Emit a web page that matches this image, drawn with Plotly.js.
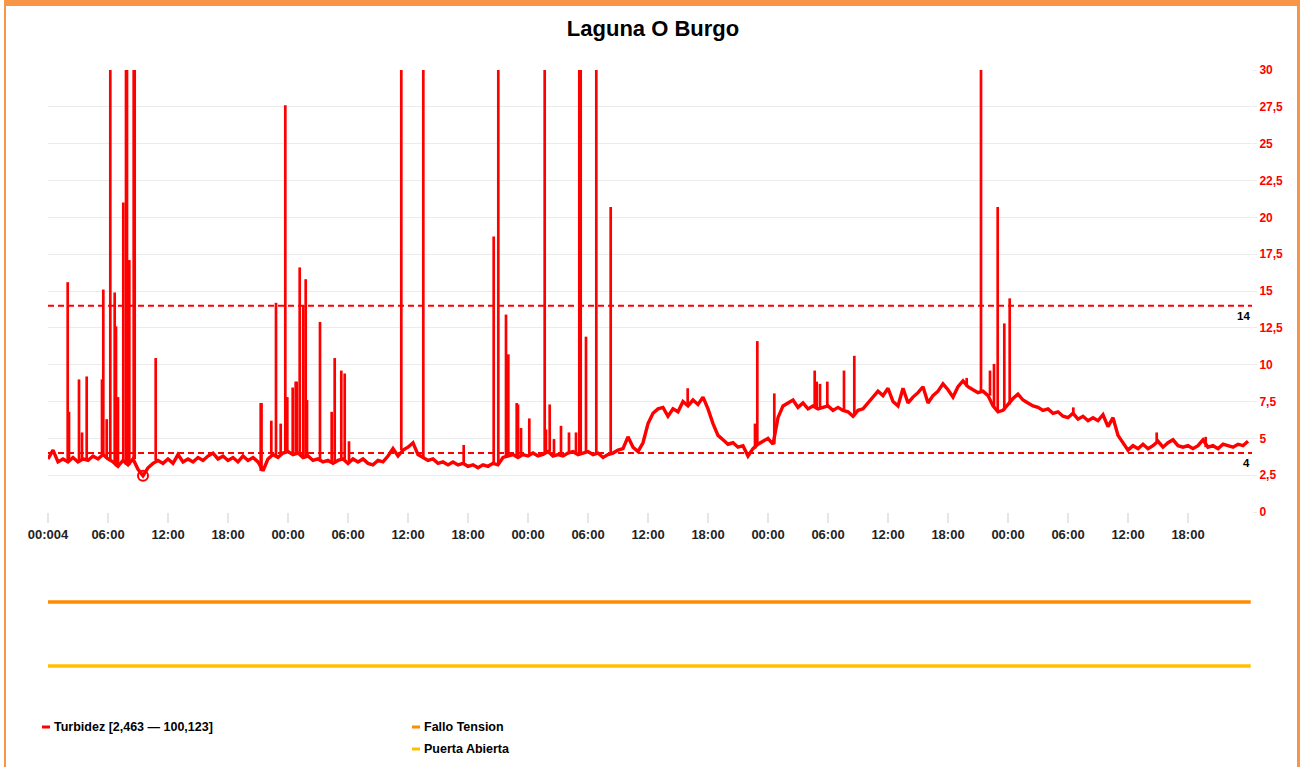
<!DOCTYPE html>
<html>
<head>
<meta charset="utf-8">
<script src="https://cdn.plot.ly/plotly-3.0.1.min.js"></script>
<style>
  html, body { margin: 0; padding: 0; background: #fff; }
  #wrap { position: relative; width: 1306px; height: 767px; overflow: hidden; }
  #chart { position: absolute; left: 0; top: 0; width: 1306px; height: 767px; }
  #frame { position: absolute; left: 4px; top: 0; width: 1296px; height: 767px;
           border-top: 6px solid #f79646; border-left: 2px solid #f79646; border-right: 3px solid #f79646;
           box-sizing: border-box; pointer-events: none; }
</style>
</head>
<body>
<div id="wrap"><div id="chart"></div><div id="frame"></div></div>
<script>
// ---------------- DATA ----------------
// Turbidity base series, sampled every 0.5 h from 00:00 of day 1
const baseStepHours = 0.5;
const turbidezBase = [
  3.6,4.2,3.4,3.6,3.4,3.7,3.4,3.6,3.5,3.8,3.6,3.9,
  3.6,3.4,3.1,3.5,3.2,3.6,2.9,2.463,3.0,3.3,3.5,3.3,
  3.6,3.3,3.9,3.4,3.6,3.4,3.7,3.5,3.8,4.0,3.6,3.8,
  3.5,3.7,3.4,3.8,3.5,3.7,3.4,2.8,3.6,3.9,3.7,4.0,
  4.1,3.9,4.0,3.7,3.8,3.5,3.6,3.4,3.5,3.3,3.5,3.6,
  3.3,3.6,3.4,3.6,3.3,3.2,3.5,3.4,3.8,4.3,3.8,4.2,
  4.4,4.7,3.9,3.7,3.5,3.6,3.3,3.4,3.2,3.4,3.2,3.3,
  3.1,3.2,3.0,3.2,3.1,3.3,3.2,3.7,3.8,3.9,3.7,3.9,
  3.8,4.0,3.8,3.9,4.1,3.8,3.9,3.8,4.0,4.1,3.9,4.0,
  4.1,3.9,4.0,3.7,3.9,4.0,4.2,4.3,5.1,4.4,4.1,4.7,
  6.0,6.7,7.0,7.1,6.5,7.0,6.8,7.5,7.2,7.6,7.3,7.8,
  7.0,6.0,5.2,4.9,4.6,4.7,4.4,4.5,3.8,4.3,4.6,4.8,
  5.0,4.6,6.4,7.2,7.4,7.6,7.1,7.4,7.0,7.2,7.0,7.1,
  7.2,6.9,7.1,6.9,6.8,6.5,6.9,7.0,7.4,7.8,8.2,7.9,
  8.4,7.5,7.2,8.4,7.4,7.8,8.1,8.5,7.4,7.9,8.2,8.7,
  8.3,7.8,8.5,8.9,8.5,8.3,8.1,8.2,7.9,7.2,6.8,6.9,
  7.3,7.7,8.0,7.6,7.4,7.2,7.1,6.9,7.0,6.7,6.8,6.5,
  6.4,6.7,6.3,6.5,6.2,6.4,6.2,6.6,5.8,6.4,5.2,4.7,
  4.2,4.5,4.3,4.6,4.3,4.5,4.8,4.4,4.7,4.9,4.5,4.4,
  4.5,4.3,4.5,4.9,4.4,4.5,4.3,4.6,4.5,4.4,4.6,4.5,
  4.8
];
// Short turbidity spikes (hour since start, peak value)
const spikeHours = [
  1.97,2.1,3.1,3.4,3.87,5.4,5.53,5.87,6.23,6.67,6.8,7.0,7.53,7.8,7.9,8.13,8.57,8.67,10.77,
  21.27,21.35,22.33,22.8,23.27,23.73,23.93,24.47,24.77,24.87,25.17,25.53,25.77,25.9,27.2,28.37,28.67,29.33,29.67,30.1,
  35.33,37.53,41.57,44.57,45.03,45.8,46.03,46.87,47.0,47.3,48.13,49.67,49.8,50.17,50.6,51.3,52.1,52.8,53.13,53.27,53.8,54.83,56.27,
  63.97,70.7,70.93,72.63,76.67,76.87,77.2,77.93,79.6,80.63,
  91.87,93.3,94.2,94.6,94.97,95.63,96.17,102.53,110.87,115.77
];
const spikePeaks = [
  15.6,6.8,9.0,5.4,9.2,9.0,15.1,6.3,100.123,14.9,12.6,7.8,21.0,60,60,17.1,60,60,10.45,
  7.4,7.4,6.2,14.2,6.0,27.6,7.8,8.45,8.85,8.85,16.6,14.05,15.8,7.6,12.9,6.8,10.45,9.6,9.4,4.8,
  60,60,4.55,18.7,60,13.4,10.7,7.4,7.3,5.7,6.35,60,5.6,7.3,4.95,5.85,5.4,5.4,60,60,11.9,60,20.7,
  8.4,6.0,11.6,8.05,9.6,8.85,8.7,8.85,9.6,10.6,
  9.1,60,9.6,10.05,20.7,12.8,14.5,7.1,5.4,5.1
];
// Status signals (no events: flat at 0)
const falloTensionHours = [0, 120.27];
const falloTensionVals = [0, 0];
const puertaAbiertaHours = [0, 120.27];
const puertaAbiertaVals = [0, 0];
// Thresholds
const thresholds = [14, 4];
// Axis ticks
const xTickVals = [0,6,12,18,24,30,36,42,48,54,60,66,72,78,84,90,96,102,108,114];
const xTickText = ["00:004","06:00","12:00","18:00","00:00","06:00","12:00","18:00","00:00","06:00","12:00","18:00","00:00","06:00","12:00","18:00","00:00","06:00","12:00","18:00"];
const yTickVals = [0,2.5,5,7.5,10,12.5,15,17.5,20,22.5,25,27.5,30];
const yTickText = ["0","2,5","5","7,5","10","12,5","15","17,5","20","22,5","25","27,5","30"];

// ---------------- BUILD ----------------
const FONT = "Liberation Sans, Arial, Helvetica, sans-serif";
const RED = "#ff0000";
const baseHours = turbidezBase.map((v, i) => i * baseStepHours);

const sx = [], sy = [];
spikeHours.forEach((t, i) => {
  const foot = turbidezBase[Math.min(turbidezBase.length - 1, Math.round(t / baseStepHours))];
  sx.push(t, t, null);
  sy.push(foot, spikePeaks[i], null);
});

let minVal = Infinity, minHour = 0;
turbidezBase.forEach((v, i) => { if (v < minVal) { minVal = v; minHour = baseHours[i]; } });
const maxVal = Math.max(...turbidezBase, ...spikePeaks);
const fmt = v => v.toFixed(3).replace('.', ',');

const traces = [
  { x: baseHours, y: turbidezBase, type: 'scatter', mode: 'lines', name: 'Turbidez',
    line: { color: RED, width: 3.4 }, xaxis: 'x', yaxis: 'y', showlegend: false, hoverinfo: 'skip' },
  { x: sx, y: sy, type: 'scatter', mode: 'lines', name: 'Turbidez picos',
    line: { color: RED, width: 2.7 }, xaxis: 'x', yaxis: 'y', showlegend: false, connectgaps: false, hoverinfo: 'skip' },
  { x: [minHour], y: [minVal], type: 'scatter', mode: 'markers', name: 'min',
    marker: { symbol: 'circle-open', size: 10, color: RED, line: { color: RED, width: 2 } },
    xaxis: 'x', yaxis: 'y', showlegend: false, hoverinfo: 'skip', cliponaxis: false },
  { x: falloTensionHours, y: falloTensionVals, type: 'scatter', mode: 'lines', name: 'Fallo Tension',
    line: { color: '#ff8c00', width: 3.5 }, xaxis: 'x', yaxis: 'y2', showlegend: false, hoverinfo: 'skip' },
  { x: puertaAbiertaHours, y: puertaAbiertaVals, type: 'scatter', mode: 'lines', name: 'Puerta Abierta',
    line: { color: '#ffc000', width: 3.5 }, xaxis: 'x', yaxis: 'y3', showlegend: false, hoverinfo: 'skip' }
];

// pixel -> paper helpers (plot area: x 48..1252, y 70..680)
const PL = 48, PW = 1204, PB = 680, PH = 610;
const px = p => (p - PL) / PW;
const py = p => (PB - p) / PH;

const shapes = thresholds.map(t => ({
  type: 'line', xref: 'paper', yref: 'y', x0: 0, x1: 1, y0: t, y1: t,
  line: { color: RED, width: 2, dash: '6px,4px' }
}));
const legendItems = [
  { color: RED, text: 'Turbidez [' + fmt(minVal) + ' — ' + fmt(maxVal) + ']', x: 42, y: 727 },
  { color: '#ff8c00', text: 'Fallo Tension', x: 412, y: 727 },
  { color: '#ffc000', text: 'Puerta Abierta', x: 412, y: 749 }
];
legendItems.forEach(it => {
  shapes.push({ type: 'line', xref: 'paper', yref: 'paper', x0: px(it.x), x1: px(it.x + 8),
                y0: py(it.y), y1: py(it.y), line: { color: it.color, width: 3 } });
});
const annotations = thresholds.map(t => ({
  xref: 'paper', yref: 'y', x: 1, y: t, xanchor: 'right', yanchor: 'top', yshift: -2,
  text: String(t), showarrow: false, font: { family: FONT, size: 11.5, color: '#000', weight: 'bold' }
}));
legendItems.forEach(it => {
  annotations.push({ xref: 'paper', yref: 'paper', x: px(it.x + 10), y: py(it.y), xanchor: 'left', yanchor: 'middle',
    text: it.text, showarrow: false, font: { family: FONT, size: 12.5, color: '#000', weight: 'bold' } });
});

const layout = {
  width: 1306, height: 767,
  margin: { l: 48, r: 54, t: 70, b: 87, pad: 0 },
  paper_bgcolor: '#fff', plot_bgcolor: '#fff',
  showlegend: false,
  title: { text: 'Laguna O Burgo', x: 0.5, xref: 'container', xanchor: 'center',
           y: 1 - 28 / 767, yref: 'container', yanchor: 'middle',
           font: { family: FONT, size: 22, color: '#000', weight: 'bold' } },
  xaxis: { range: [0, 120.4], tickmode: 'array', tickvals: xTickVals, ticktext: xTickText,
           ticks: 'outside', ticklen: 10, tickwidth: 2, tickcolor: '#e6e6e6',
           showgrid: false, zeroline: false, showline: false, anchor: 'y',
           tickfont: { family: FONT, size: 13, color: '#222', weight: 'bold' }, fixedrange: true },
  yaxis: { domain: [py(512), 1], range: [0, 30], side: 'right', tickmode: 'array',
           tickvals: yTickVals, ticktext: yTickText, showgrid: true, gridcolor: '#ebebeb', gridwidth: 1,
           ticks: 'outside', ticklen: 4, tickcolor: '#ebebeb', zeroline: false, showline: false,
           tickfont: { family: FONT, size: 12, color: RED, weight: 'bold' }, fixedrange: true },
  yaxis2: { domain: [py(602) - 0.02, py(602) + 0.02], range: [-1, 1], visible: false, anchor: 'x', fixedrange: true },
  yaxis3: { domain: [py(666) - 0.02, py(666) + 0.02], range: [-1, 1], visible: false, anchor: 'x', fixedrange: true },
  shapes: shapes,
  annotations: annotations
};

Plotly.newPlot('chart', traces, layout, { staticPlot: true, displayModeBar: false });
</script>
</body>
</html>
